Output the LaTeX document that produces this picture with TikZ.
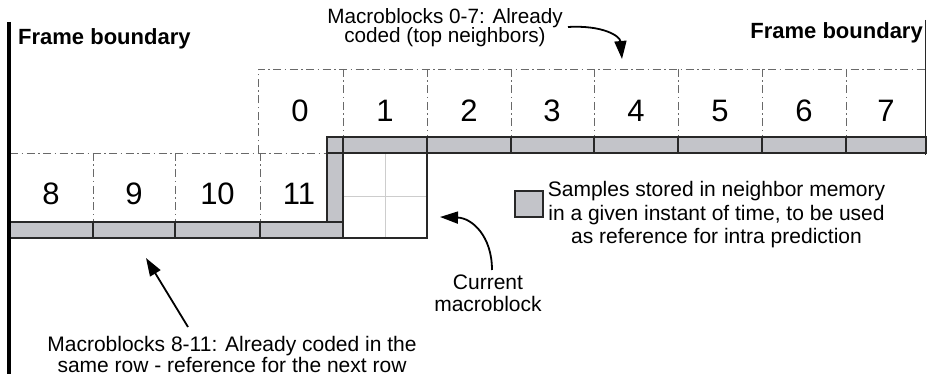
\documentclass[tikz,border=0pt]{standalone}
\usepackage{fontspec}
\setmainfont{Liberation Sans}
\usetikzlibrary{arrows.meta}
\definecolor{memgray}{RGB}{195,196,201}
\definecolor{edgeink}{RGB}{40,40,40}
\definecolor{dashink}{RGB}{105,105,105}
\definecolor{gridink}{RGB}{205,205,205}
\begin{document}
\begin{tikzpicture}[x=1pt,y=-1pt,
  mbline/.style={draw=dashink, line width=0.9pt, dash pattern=on 8pt off 3.5pt on 1.5pt off 3.5pt},
  memcell/.style={fill=memgray, draw=edgeink, line width=1.2pt},
  num/.style={font=\fontsize{31}{31}\selectfont, anchor=base, inner sep=0pt},
  txt/.style={font=\fontsize{21}{22}\selectfont, align=center, inner sep=0pt, anchor=base},
  fbtitle/.style={font=\fontsize{22}{22}\selectfont\bfseries, inner sep=0pt},
  ptr/.style={draw=black, line width=1.8pt, -{Triangle[length=18pt,width=12pt]}},
]
\useasboundingbox (0,0) rectangle (927,379);

% macroblock outlines, top row (0-7)
\draw[mbline] (258,153) -- (258,69) -- (926,69);
\foreach \x in {343,427,511,594,678,762,846}
  \draw[mbline] (\x,69) -- (\x,137);
% macroblock outlines, current row (8-11)
\draw[mbline] (10,153) -- (327,153);
\foreach \x in {93,175,260}
  \draw[mbline] (\x,153) -- (\x,222);

% macroblock numbers
\foreach \x/\n in {300/0,385/1,469/2,552/3,636/4,720/5,804/6,886/7}
  \node[num] (mb\n) at (\x,122) {\n};
\foreach \x/\n in {51/8,134/9,217.5/10,299/11}
  \node[num] (mb\n) at (\x,205) {\n};

% neighbour memory: bottom samples of the top row
\draw[memcell] (327,137) rectangle (343,153);
\foreach \a/\b in {343/427,427/511,511/594,594/678,678/762,762/846,846/926}
  \draw[memcell] (\a,137) rectangle (\b,153);
% left column of samples
\draw[memcell] (327,153) rectangle (343,222);
% bottom samples of the current row
\foreach \a/\b in {10/93,93/175,175/260,260/343}
  \draw[memcell] (\a,222) rectangle (\b,238);

% current macroblock with its 2x2 split
\draw[gridink, line width=0.9pt] (385,153) -- (385,238) (343,196) -- (427,196);
\node[draw=edgeink, line width=1.2pt, minimum width=84pt, minimum height=85pt, inner sep=0pt] (cur) at (385,195.5) {};

% frame boundaries
\draw[black, line width=3.2pt] (9,22) -- (9,374);
\draw[edgeink, line width=1pt] (925,20) -- (925,155);
\node[fbtitle, anchor=base west] (fbl) at (18,45) {Frame boundary};
\node[fbtitle, anchor=base east] (fbr) at (923,39) {Frame boundary};

% legend (base anchor sits on the last line)
\node[memcell, minimum width=28pt, minimum height=26pt, inner sep=0pt] (key) at (529,204) {};
\node[txt, font=\fontsize{21}{23.5}\selectfont] (keytext) at (716.5,244)
  {Samples stored in neighbor memory\\in a given instant of time, to be used\\as reference for intra prediction};

% annotations
\node[txt, font=\fontsize{20.7}{19.5}\selectfont] (toptext) at (445,43) {Macroblocks 0-7: Already\\coded (top neighbors)};
\node[txt] (curtext) at (488,312) {Current\\macroblock};
\node[txt, font=\fontsize{21}{21}\selectfont] (rowtext) at (232,373) {Macroblocks 8-11: Already coded in the\\same row - reference for the next row};

\coordinate (topfrom) at (568,27);
\coordinate (topto) at (622,59);
\coordinate (curfrom) at (492,270);
\coordinate (curto) at (440,217);
\coordinate (rowfrom) at (188,327);
\coordinate (rowto) at (146,258);

\draw[ptr] (topfrom) .. controls (603,25) and (620,36) .. (topto);
\draw[ptr] (curfrom) .. controls (492,236) and (472,218) .. (curto);
\draw[ptr] (rowfrom) -- (rowto);
\end{tikzpicture}
\end{document}
